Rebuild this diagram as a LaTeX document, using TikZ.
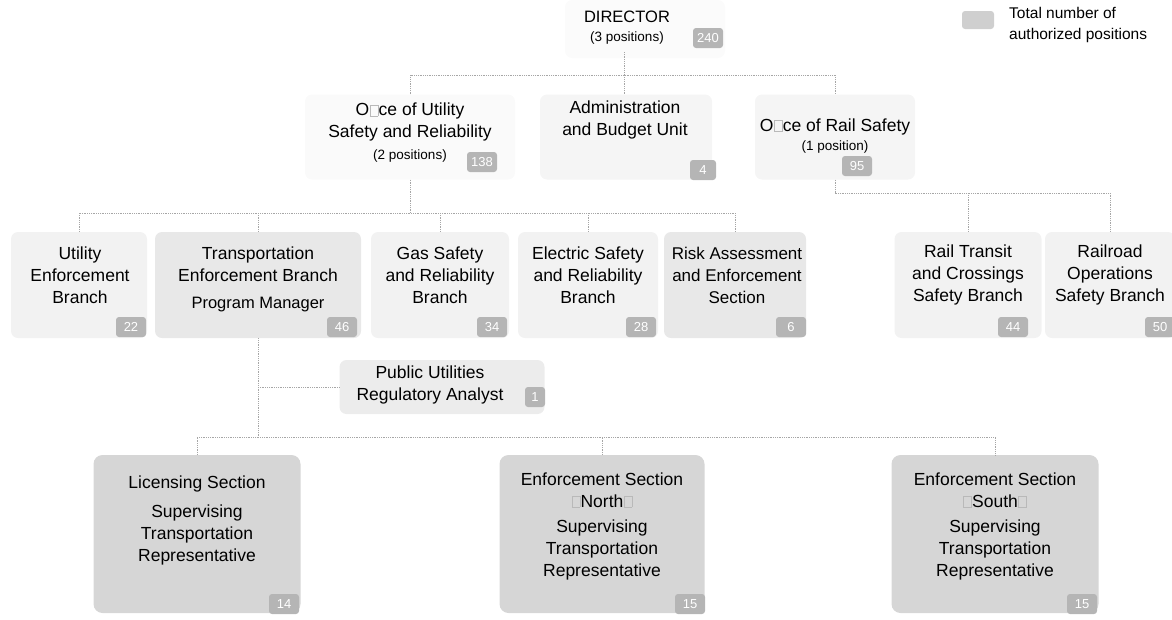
\documentclass[tikz,border=0pt]{standalone}
\usepackage{fontspec}
\setmainfont{Liberation Sans}
\newcommand\mainfs{\fontsize{17.5}{22}\selectfont}
\newcommand\smallfs{\fontsize{13.5}{16}\selectfont}
\newcommand\gapbox{\kern0.6pt{\color{gray!55}\fboxsep=0pt\fboxrule=0.4pt\fbox{\rule{0pt}{0.62em}\hspace{0.42em}}}\kern0.6pt}
\begin{document}
\begin{tikzpicture}[x=1pt,y=-1pt,
  conn/.style={dash pattern=on 0.9pt off 0.9pt, gray!70, line width=0.8pt},
  box/.style={rounded corners=7pt, fill=gray!10, inner sep=0pt},
  boxmid/.style={box, fill=gray!18},
  boxdark/.style={box, fill=gray!32, rounded corners=9pt},
  txt/.style={align=center, font=\mainfs, inner sep=0pt},
  badge/.style={fill=gray!58, rounded corners=3pt, minimum width=30, minimum height=20, inner sep=0pt, text=white, font=\fontsize{13}{13}\selectfont}]
\useasboundingbox (0,0) rectangle (1172,619);

% ---- level 1
\node[box, fill=gray!3, minimum width=160, minimum height=58] (dirbox) at (645,29) {};
\node[txt] (dir) at (627,28) {{\fontsize{16.5}{18}\selectfont DIRECTOR}\\[-3pt]{\smallfs(3 positions)}};
\node[badge] (dir-n) at (708,38) {240};
\coordinate (dstem) at (624,52);

% ---- legend
\node[badge, fill=gray!38, minimum width=32, minimum height=18] (leg-n) at (978,20) {};
\node[align=left, anchor=west, inner sep=0pt, font=\fontsize{15.5}{21}\selectfont] (leg-t) at (1009,25) {Total number of\\authorized positions};

% ---- level 2
\node[box, fill=gray!4, minimum width=210, minimum height=85] (ousr) at (410,137) {};
\node[txt] (ousr-t) at (410,133) {O\gapbox ce of Utility\\Safety and Reliability\\{\smallfs(2 positions)}};
\node[badge] (ousr-n) at (482,162) {138};

\node[box, fill=gray!8, minimum width=172, minimum height=85] (admin) at (626,137) {};
\node[txt] (admin-t) at (625,120) {Administration\\and Budget Unit};
\node[badge, minimum width=26] (admin-n) at (703,170) {4};

\node[box, fill=gray!8, minimum width=160, minimum height=85] (ors) at (835,137) {};
\node[txt] (ors-t) at (835,136) {O\gapbox ce of Rail Safety\\[-3pt]{\smallfs(1 position)}};
\node[badge] (ors-n) at (857,166) {95};

% ---- level 3
\node[box, minimum width=136, minimum height=106] (ueb) at (79,285) {};
\node[txt] (ueb-t) at (80,275) {Utility\\Enforcement\\Branch};
\node[badge] (ueb-n) at (131,327) {22};

\node[boxmid, minimum width=206, minimum height=106] (teb) at (258,285) {};
\node[txt] (teb-t) at (258,279) {Transportation\\Enforcement Branch\\[5pt]{\fontsize{16.5}{22}\selectfont Program Manager}};
\node[badge] (teb-n) at (342,327) {46};

\node[box, minimum width=138, minimum height=106] (gas) at (440,285) {};
\node[txt] (gas-t) at (440,275) {Gas Safety\\and Reliability\\Branch};
\node[badge] (gas-n) at (492,327) {34};

\node[box, minimum width=140, minimum height=106] (elec) at (588,285) {};
\node[txt] (elec-t) at (588,275) {Electric Safety\\and Reliability\\Branch};
\node[badge] (elec-n) at (641,327) {28};

\node[boxmid, minimum width=142, minimum height=106] (risk) at (735,285) {};
\node[txt, font=\fontsize{17}{22}\selectfont] (risk-t) at (737,275) {Risk Assessment\\and Enforcement\\Section};
\node[badge] (risk-n) at (791,327) {6};

\node[box, minimum width=147, minimum height=106] (rt) at (968,285) {};
\node[txt] (rt-t) at (968,275) {Rail Transit\\and Crossings\\Safety Branch};
\node[badge] (rt-n) at (1013,327) {44};

\node[box, minimum width=130, minimum height=106] (rr) at (1110,285) {};
\node[txt] (rr-t) at (1110,275) {Railroad\\Operations\\Safety Branch};
\node[badge] (rr-n) at (1160,327) {50};

% ---- analyst
\node[box, fill=gray!15, minimum width=205, minimum height=54] (pua) at (442,387) {};
\node[txt] (pua-t) at (430,385) {Public Utilities\\Regulatory Analyst};
\node[badge, minimum width=20] (pua-n) at (535,397) {1};

% ---- level 4
\node[boxdark, minimum width=207, minimum height=158] (lic) at (197,534) {};
\node[txt] (lic-t) at (197,520) {Licensing Section\\[7pt]Supervising\\Transportation\\Representative};
\node[badge] (lic-n) at (284,604) {14};

\node[boxdark, minimum width=205, minimum height=158] (north) at (602,534) {};
\node[txt] (north-t) at (602,526) {Enforcement Section\\\gapbox North\gapbox\\[3pt]Supervising\\Transportation\\Representative};
\node[badge] (north-n) at (690,604) {15};

\node[boxdark, minimum width=207, minimum height=158] (south) at (995,534) {};
\node[txt] (south-t) at (995,526) {Enforcement Section\\\gapbox South\gapbox\\[3pt]Supervising\\Transportation\\Representative};
\node[badge] (south-n) at (1082,604) {15};

% ---- connectors
\coordinate (bus1) at (0,75);
\coordinate (bus2) at (0,213);
\coordinate (bus3) at (0,193);
\coordinate (bus4) at (0,437);
\draw[conn] (dstem) -- (dstem |- admin.north);
\draw[conn] (ousr.north) -- (ousr.north |- bus1) -- (ors.north |- bus1) -- (ors.north);

\draw[conn] (ousr.south) -- (ousr.south |- bus2);
\draw[conn] (ueb.north) -- (ueb.north |- bus2) -- (risk.north |- bus2) -- (risk.north);
\draw[conn] (teb.north) -- (teb.north |- bus2);
\draw[conn] (gas.north) -- (gas.north |- bus2);
\draw[conn] (elec.north) -- (elec.north |- bus2);

\draw[conn] (ors.south) -- (ors.south |- bus3) -- (rr.north |- bus3) -- (rr.north);
\draw[conn] (rt.north) -- (rt.north |- bus3);

\draw[conn] (teb.south) -- (teb.south |- bus4);
\draw[conn] (teb.south |- pua.west) -- (pua.west);
\draw[conn] (lic.north) -- (lic.north |- bus4) -- (south.north |- bus4) -- (south.north);
\draw[conn] (north.north) -- (north.north |- bus4);
\end{tikzpicture}
\end{document}
